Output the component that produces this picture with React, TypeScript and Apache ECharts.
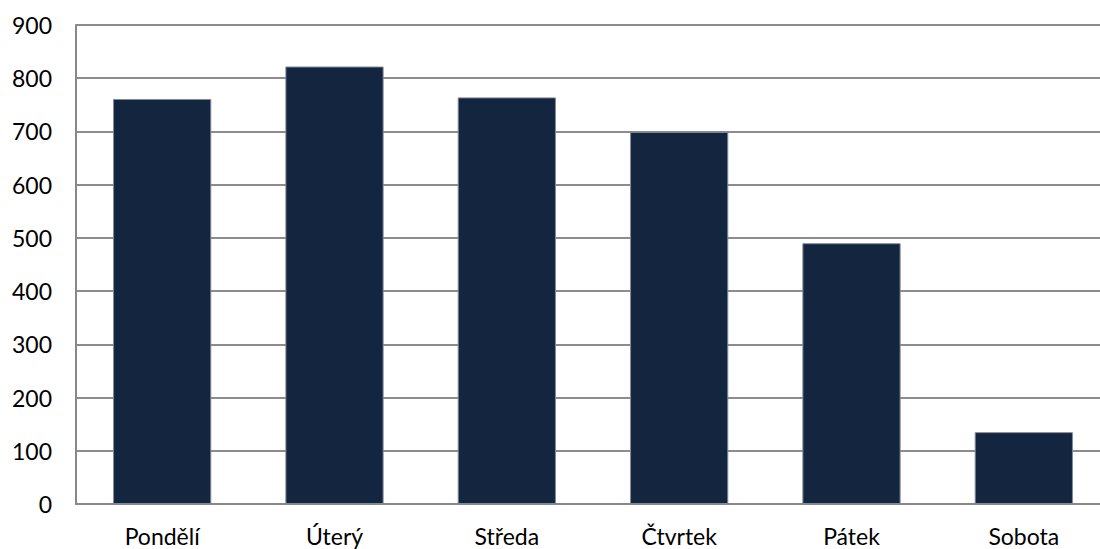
import React, { useEffect, useRef } from "react";
import * as echarts from "echarts";

const categories = ["Pondělí", "Úterý", "Středa", "Čtvrtek", "Pátek", "Sobota"];
const values = [761, 822, 764, 699, 490, 135];
const yTicks = [0, 100, 200, 300, 400, 500, 600, 700, 800, 900];

export default function App() {
  const ref = useRef<HTMLDivElement>(null);
  useEffect(() => {
    const chart = echarts.init(ref.current!, null, { renderer: "svg" });
    chart.setOption({
      animation: false,
      grid: { left: 76, top: 25, bottom: 45, right: 0, containLabel: false },
      xAxis: {
        type: "category",
        data: categories,
        axisLine: { show: true, lineStyle: { color: "#888888", width: 2 } },
        axisTick: { show: false },
        axisLabel: { color: "#000", fontSize: 23, fontFamily: "Lato", margin: 20 },
      },
      yAxis: {
        type: "value",
        min: yTicks[0],
        max: yTicks[yTicks.length - 1],
        interval: 100,
        axisLine: { show: true, lineStyle: { color: "#888888", width: 2 } },
        axisTick: { show: false },
        splitLine: { lineStyle: { color: "#8c8c8c", width: 2 } },
        axisLabel: { color: "#000", fontSize: 23, fontFamily: "Lato", margin: 24 },
      },
      series: [
        {
          type: "bar",
          data: values,
          barWidth: "57%",
          itemStyle: { color: "#13253f", borderColor: "#7f8a9a", borderWidth: 1 },
        },
      ],
    });
    return () => chart.dispose();
  }, []);
  return (
    <div style={{ width: 1100, height: 549, position: "absolute", left: 0, top: 0, overflow: "hidden" }}>
      <div ref={ref} style={{ width: 1110, height: 549 }} />
    </div>
  );
}
